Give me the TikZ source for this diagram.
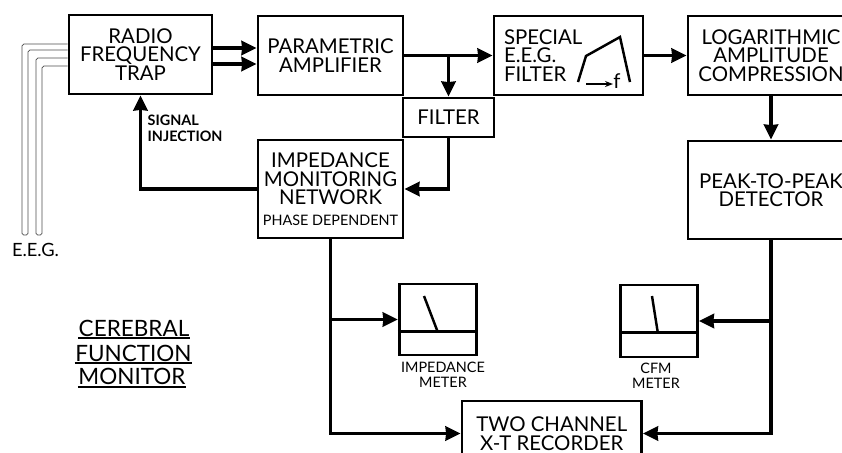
\documentclass[tikz,border=0pt]{standalone}
\usepackage{fontspec}
\usepackage{tikz}
\usetikzlibrary{arrows.meta,calc,positioning}
\setmainfont{Lato}
\newcommand{\blockfont}{\fontsize{5.8}{5.3}\selectfont}
\newcommand{\smallfont}{\fontsize{4.1}{4.4}\selectfont}
\newcommand{\titlefont}{\fontsize{6.4}{6.4}\selectfont}
\tikzset{
    blockbox/.style={draw, line width=0.8pt, align=center, inner sep=0pt, font=\blockfont},
    signal/.style={line width=1.1pt},
    eeglead/.style={black!70, line width=0.2pt, rounded corners=0.5pt},
    meterline/.style={line width=0.7pt},
    titlerule/.style={line width=0.6pt},
    smalltext/.style={align=center, inner sep=0pt, font=\smallfont}
}
\begin{document}
\begin{tikzpicture}[>={Stealth[length=1.5mm,width=1.4mm,inset=0.05mm]}]
    \useasboundingbox (0,0) rectangle (8.42,-4.52);

    % Top row
    \node[blockbox, minimum width=1.43cm, minimum height=0.79cm] (rftrap) at (1.405,-0.545) {RADIO\\FREQUENCY\\TRAP};
    \node[blockbox, minimum width=1.45cm, minimum height=0.79cm] (param) at (3.305,-0.555) {PARAMETRIC\\AMPLIFIER};
    \node[blockbox, text width=1.29cm, inner xsep=0.1cm, minimum height=0.79cm, align=left] (special) at (5.685,-0.555) {SPECIAL\\E.E.G.\\FILTER};
    \node[blockbox, minimum width=1.66cm, minimum height=0.79cm] (logamp) at (7.71,-0.555) {LOGARITHMIC\\AMPLITUDE\\COMPRESSION};

    % Filter response sketch
    \draw[meterline] (5.78,-0.82) -- (5.86,-0.56) -- (6.20,-0.37) -- (6.30,-0.82);
    \draw[line width=0.4pt, -{Stealth[length=0.8mm,width=0.6mm]}] (5.86,-0.84) -- (6.13,-0.84);
    \node[font=\blockfont, inner sep=0pt] (freq) at (6.17,-0.81) {f};

    % Second row
    \node[blockbox, minimum width=0.91cm, minimum height=0.39cm] (filter) at (4.485,-1.175) {FILTER};
    \node[blockbox, minimum width=1.45cm, minimum height=0.98cm] (impedance) at (3.305,-1.89) {IMPEDANCE\\MONITORING\\NETWORK\\[0.5pt]{\smallfont PHASE DEPENDENT}};
    \node[blockbox, minimum width=1.66cm, minimum height=0.98cm] (peak) at (7.71,-1.90) {PEAK-TO-PEAK\\DETECTOR};

    % Meters
    \node[blockbox, minimum width=0.775cm, minimum height=0.71cm] (impmeter) at (4.38,-3.195) {};
    \node[blockbox, minimum width=0.77cm, minimum height=0.72cm] (cfmmeter) at (6.59,-3.21) {};
    \draw[meterline] (impmeter.west |- 0,-3.316) -- (impmeter.east |- 0,-3.316);
    \draw[meterline] (4.24,-2.96) -- (4.376,-3.316);
    \draw[meterline] (cfmmeter.west |- 0,-3.326) -- (cfmmeter.east |- 0,-3.326);
    \draw[meterline] (6.52,-2.96) -- (6.578,-3.326);
    \node[smalltext] (implabel) at (4.43,-3.75) {IMPEDANCE\\METER};
    \node[smalltext] (cfmlabel) at (6.56,-3.755) {CFM\\METER};

    % Recorder
    \node[blockbox, minimum width=1.795cm, minimum height=0.65cm] (recorder) at (5.5175,-4.335) {TWO CHANNEL\\X-T RECORDER};

    % Electrode leads
    \draw[eeglead] (rftrap.west |- 0,-0.44) -- (0.22,-0.44) -- (0.22,-2.35) -- (0.28,-2.35) -- (0.28,-0.50) -- (rftrap.west |- 0,-0.50);
    \draw[eeglead] (rftrap.west |- 0,-0.58) -- (0.36,-0.58) -- (0.36,-2.35) -- (0.42,-2.35) -- (0.42,-0.66) -- (rftrap.west |- 0,-0.66);
    \node[font=\fontsize{5.2}{5.3}\selectfont, inner sep=0pt] (eeg) at (0.355,-2.50) {E.E.G.};

    % Signal path
    \coordinate (rfupper) at (rftrap.east |- 0,-0.48);
    \coordinate (rflower) at (rftrap.east |- 0,-0.64);
    \draw[signal, ->] (rfupper) -- (rfupper -| param.west);
    \draw[signal, ->] (rflower) -- (rflower -| param.west);
    \draw[signal, ->] (param.east) -- (special.west);
    \draw[signal, ->] (special.east) -- (logamp.west);
    \draw[signal, ->] (filter.north |- param.east) -- (filter.north);
    \draw[signal, ->] (filter.south) |- (impedance.east);
    \draw[signal, ->] (impedance.west) -| (rftrap.south);
    \draw[signal, ->] (logamp.south) -- (peak.north);
    \node[smalltext, font=\smallfont\bfseries, align=left, anchor=west] (injection) at (1.47,-1.285) {SIGNAL\\INJECTION};

    % Outputs to the meters and recorder
    \draw[signal, ->] (impedance.south |- impmeter.west) -- (impmeter.west);
    \draw[signal, ->] (impedance.south) |- (recorder.west);
    \draw[signal, ->] (peak.south |- cfmmeter.east) -- (cfmmeter.east);
    \draw[signal, ->] (peak.south) |- (recorder.east);

    % Title
    \node[font=\titlefont, inner sep=0pt] (cerebral) at (1.34,-3.28) {CEREBRAL};
    \node[font=\titlefont, inner sep=0pt] (function) at (1.335,-3.53) {FUNCTION};
    \node[font=\titlefont, inner sep=0pt] (monitor) at (1.32,-3.76) {MONITOR};
    \draw[titlerule] (cerebral.west |- 0,-3.38) -- (cerebral.east |- 0,-3.38);
    \draw[titlerule] (function.west |- 0,-3.63) -- (function.east |- 0,-3.63);
    \draw[titlerule] (monitor.west |- 0,-3.87) -- (monitor.east |- 0,-3.87);
\end{tikzpicture}
\end{document}
